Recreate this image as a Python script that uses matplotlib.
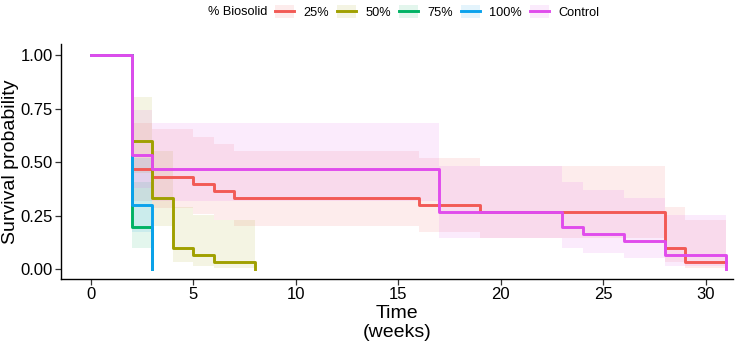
import numpy as np
import matplotlib.pyplot as plt
from matplotlib.patches import Patch
from matplotlib.lines import Line2D

plt.rcParams['font.family'] = ['Liberation Sans', 'DejaVu Sans']

# Kaplan-Meier curves (step times, survival, CI bounds)
groups = ["25%", "50%", "75%", "100%", "Control"]
colors = ["#F25A55", "#A0A000", "#00B264", "#0AA2EC", "#E04CEC"]

t_25 = [0, 2, 3, 5, 6, 7, 16, 19, 28, 29, 31]
s_25 = [1, 0.467, 0.433, 0.400, 0.367, 0.333, 0.300, 0.267, 0.100, 0.033, 0.033]
lo_25 = [1, 0.318, 0.288, 0.258, 0.229, 0.201, 0.174, 0.147, 0.034, 0.005, 0.005]
hi_25 = [1, 0.684, 0.653, 0.620, 0.587, 0.553, 0.518, 0.483, 0.293, 0.229, 0.229]

t_50 = [0, 2, 3, 4, 5, 6, 8]
s_50 = [1, 0.600, 0.333, 0.100, 0.067, 0.033, 0]
lo_50 = [1, 0.448, 0.201, 0.034, 0.018, 0.005, 0.005]
hi_50 = [1, 0.803, 0.553, 0.293, 0.254, 0.229, 0.229]

t_75 = [0, 2, 3]
s_75 = [1, 0.200, 0]
lo_75 = [1, 0.098, 0.098]
hi_75 = [1, 0.409, 0.409]

t_100 = [0, 2, 3]
s_100 = [1, 0.300, 0]
lo_100 = [1, 0.174, 0.174]
hi_100 = [1, 0.518, 0.518]

t_ctl = [0, 2, 3, 17, 23, 24, 26, 28, 31]
s_ctl = [1, 0.533, 0.467, 0.267, 0.200, 0.167, 0.133, 0.067, 0]
lo_ctl = [1, 0.381, 0.318, 0.147, 0.098, 0.075, 0.054, 0.018, 0.018]
hi_ctl = [1, 0.745, 0.684, 0.483, 0.409, 0.371, 0.332, 0.254, 0.254]

times = [t_25, t_50, t_75, t_100, t_ctl]
survs = [s_25, s_50, s_75, s_100, s_ctl]
lows = [lo_25, lo_50, lo_75, lo_100, lo_ctl]
highs = [hi_25, hi_50, hi_75, hi_100, hi_ctl]

fig = plt.figure(figsize=(7.38, 3.45), dpi=100)
ax = fig.add_axes([0.0827, 0.191, 0.9103, 0.681])

band_alpha = 0.11
for t, s, lo, hi, c in zip(times, survs, lows, highs, colors):
    ax.fill_between(t, lo, hi, step="post", color=c, alpha=band_alpha, linewidth=0)
for t, s, c in zip(times, survs, colors):
    ax.step(t, s, where="post", color=c, linewidth=2.1)

ax.set_xlim(-1.46, 31.32)
ax.set_ylim(-0.045, 1.051)
ax.set_xticks([0, 5, 10, 15, 20, 25, 30])
ax.set_yticks([0, 0.25, 0.5, 0.75, 1.0])
ax.set_yticklabels(["0.00", "0.25", "0.50", "0.75", "1.00"])
ax.tick_params(axis="both", labelsize=12, length=4, width=0.9, colors="#333333",
               labelcolor="black", direction="out", pad=2)
for side in ["top", "right"]:
    ax.spines[side].set_visible(False)
for side in ["left", "bottom"]:
    ax.spines[side].set_linewidth(1.0)
    ax.spines[side].set_color("black")

ax.set_xlabel("Time\n(weeks)", fontsize=14, linespacing=1.15, labelpad=2)
ax.set_ylabel("Survival probability", fontsize=14, labelpad=1)

# legend across the top
handles = [(Patch(facecolor=c, alpha=band_alpha, edgecolor="none"),
            Line2D([], [], color=c, linewidth=2.1)) for c in colors]
fig.text(208 / 738, 1 - 12 / 345, "% Biosolid", fontsize=9.2, va="center", ha="left")
leg = fig.legend(handles, groups, loc="center left", bbox_to_anchor=(275 / 738, 1 - 12 / 345),
                 ncol=5, frameon=False, fontsize=9.2, handlelength=1.5, handleheight=1.25,
                 handletextpad=0.7, columnspacing=0.65, borderpad=0, borderaxespad=0)

fig.savefig("out.png", dpi=100)
